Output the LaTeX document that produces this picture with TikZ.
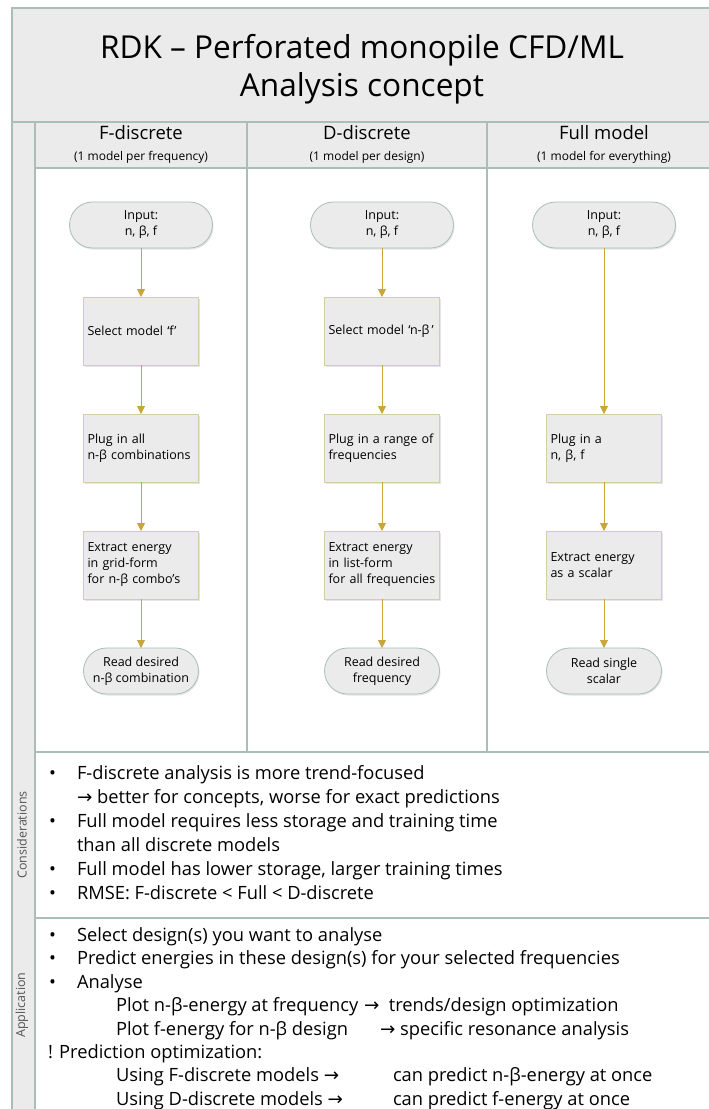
\documentclass[tikz,border=0pt]{standalone}
\usepackage{fontspec}
\setmainfont{Open Sans}
\newfontfamily\arrowfont{DejaVu Sans}
\usetikzlibrary{shadows,arrows.meta}

\definecolor{lanegray}{HTML}{EBEBEB}
\definecolor{laneline}{HTML}{A9BEB7}
\definecolor{boxline}{HTML}{D5CDA8}
\definecolor{flowgold}{HTML}{C8A63C}
\definecolor{labelgray}{HTML}{555555}

\newcommand{\rarrow}{{\arrowfont\char"2192}}

\begin{document}
\begin{tikzpicture}[x=1pt, y=-1pt]
\tikzset{ >={Triangle[length=8pt,width=8pt]}, inner sep=0pt, outer sep=0pt,
  lane/.style={draw=laneline, line width=1.2pt},
  proc/.style={draw=boxline, fill=lanegray, line width=0.8pt, minimum width=115pt, minimum height=68pt,
    text width=107pt, align=left, inner xsep=4pt, font=\fontsize{12.5}{16}\selectfont,
    drop shadow={opacity=0.2, shadow xshift=1pt, shadow yshift=-1.5pt}},
  term/.style={draw=laneline, fill=lanegray, line width=0.8pt, rounded corners=23pt, minimum height=46pt,
    align=center, font=\fontsize{12.5}{16}\selectfont,
    drop shadow={opacity=0.2, shadow xshift=1pt, shadow yshift=-1.5pt}},
  flow/.style={->, draw=flowgold, fill=flowgold, line width=0.8pt},
  head/.style={font=\fontsize{18.5}{22}\selectfont},
  subhead/.style={font=\fontsize{12}{14}\selectfont},
  side/.style={rotate=90, text=labelgray, font=\fontsize{12.5}{15}\selectfont},
  item/.style={anchor=base west, font=\fontsize{18.3}{22}\selectfont},
}

\useasboundingbox (0,0) rectangle (709,1109);
\clip (0,0) rectangle (709,1109);

%\draw [lightgray, dashed](0,0) grid [step=50] (709,1109);

% frame
\filldraw [lane, fill=lanegray] (12,8) rectangle (721,122);
\filldraw [lane, fill=lanegray] (12,122) rectangle (35,1130);
\filldraw [lane, fill=lanegray] (35,122) rectangle (721,168);
\draw [lane] (247,122) -- (247,168);
\draw [lane] (487,122) -- (487,168);

\filldraw [lane, fill=white] (35,168) rectangle (247,752);
\filldraw [lane, fill=white] (247,168) rectangle (487,752);
\filldraw [lane, fill=white] (487,168) rectangle (721,752);
\filldraw [lane, fill=white] (35,752) rectangle (721,918);
\filldraw [lane, fill=white] (35,918) rectangle (721,1130);

% title and headers
\node [align=center, font=\fontsize{31.6}{38}\selectfont] (title) at (362,69)
  {RDK -- Perforated monopile CFD/ML\\Analysis concept};

\node [head] (HF) at (141,133) {F-discrete};
\node [head] (HD) at (367,133) {D-discrete};
\node [head] (HM) at (604,133) {Full model};
\node [subhead] (hf) at (141,157) {(1 model per frequency)};
\node [subhead] (hd) at (367,157) {(1 model per design)};
\node [subhead] (hm) at (604,157) {(1 model for everything)};

\node [side] (cons) at (22,835) {Considerations};
\node [side] (appl) at (22,1005) {Application};

% F-discrete
\node [term, minimum width=143pt] (IF) at (141,225) {Input:\\n, β, f};
\node [proc] (SF) at (141,331) {Select model ‘f’};
\node [proc] (PF) at (141,448) {Plug in all\\n-β combinations};
\node [proc] (EF) at (141,565) {Extract energy\\in grid-form\\for n-β combo’s};
\node [term, minimum width=115pt] (RF) at (141,671) {Read desired\\n-β combination};

% D-discrete
\node [term, minimum width=143pt] (ID) at (382,225) {Input:\\n, β, f};
\node [proc] (SD) at (382,331) {\mbox{Select model ‘n-β\,’}};
\node [proc] (PD) at (382,448) {Plug in a range of\\frequencies};
\node [proc] (ED) at (382,565) {Extract energy\\in list-form\\for all frequencies};
\node [term, minimum width=115pt] (RD) at (382,671) {Read desired\\frequency};

% Full model
\node [term, minimum width=143pt] (IM) at (604,225) {Input:\\n, β, f};
\node [proc] (PM) at (604,448) {Plug in a\\n, β, f};
\node [proc] (EM) at (604,565) {Extract energy\\as a scalar};
\node [term, minimum width=115pt] (RM) at (604,671) {Read single\\scalar};

\draw [flow] (IF) -- (SF);
\draw [flow] (SF) -- (PF);
\draw [flow] (PF) -- (EF);
\draw [flow] (EF) -- (RF);

\draw [flow] (ID) -- (SD);
\draw [flow] (SD) -- (PD);
\draw [flow] (PD) -- (ED);
\draw [flow] (ED) -- (RD);

\draw [flow] (IM) -- (PM);
\draw [flow] (PM) -- (EM);
\draw [flow] (EM) -- (RM);

% considerations
\node [item] (cb1) at (49,779) {•};
\node [item] (c1) at (77,779) {F-discrete analysis is more trend-focused};
\node [item] (c2) at (77,803) {\rarrow\ better for concepts, worse for exact predictions};
\node [item] (cb2) at (49,827) {•};
\node [item] (c3) at (77,827) {Full model requires less storage and training time};
\node [item] (c4) at (77,851) {than all discrete models};
\node [item] (cb3) at (49,875) {•};
\node [item] (c5) at (77,875) {Full model has lower storage, larger training times};
\node [item] (cb4) at (49,899) {•};
\node [item] (c6) at (77,899) {RMSE: F-discrete < Full < D-discrete};

% application
\node [item] (ab1) at (49,941) {•};
\node [item] (a1) at (77,941) {Select design(s) you want to analyse};
\node [item] (ab2) at (49,964) {•};
\node [item] (a2) at (77,964) {Predict energies in these design(s) for your selected frequencies};
\node [item] (ab3) at (49,988) {•};
\node [item] (a3) at (77,988) {Analyse};
\node [item] (a4) at (116,1011) {Plot n-β-energy at frequency};
\node [item] (a4r) at (364,1011) {\rarrow\ \ trends/design optimization};
\node [item] (a5) at (116,1035) {Plot f-energy for n-β design};
\node [item] (a5r) at (380,1035) {\rarrow\ specific resonance analysis};
\node [item] (a6) at (48,1058) {! Prediction optimization:};
\node [item] (a7) at (116,1081) {Using F-discrete models \rarrow};
\node [item] (a7r) at (393,1081) {can predict n-β-energy at once};
\node [item] (a8) at (116,1105) {Using D-discrete models \rarrow};
\node [item] (a8r) at (393,1105) {can predict f-energy at once};

\end{tikzpicture}
\end{document}
